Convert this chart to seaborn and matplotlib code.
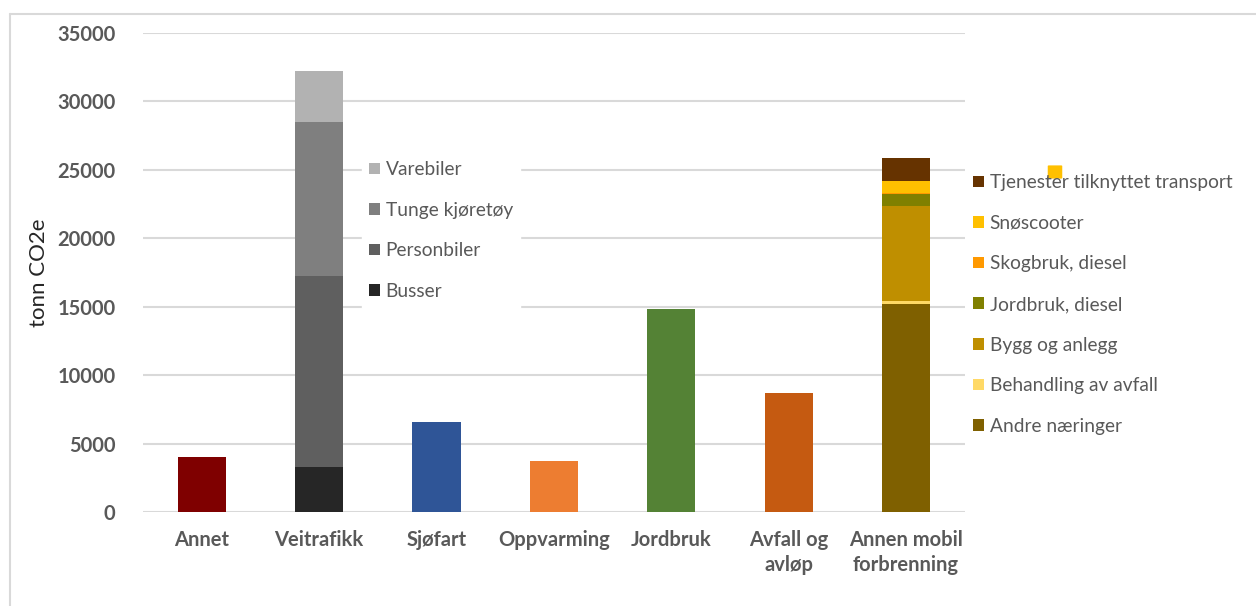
import numpy as np
import pandas as pd
import seaborn as sns
import matplotlib.pyplot as plt
from matplotlib.patches import Patch, FancyBboxPatch
from matplotlib.lines import Line2D

# ---------------- data ----------------
categories = ["Annet", "Veitrafikk", "Sjøfart", "Oppvarming", "Jordbruk",
              "Avfall og\navløp", "Annen mobil\nforbrenning"]

single_cats = ["Annet", "Sjøfart", "Oppvarming", "Jordbruk", "Avfall og\navløp"]
single_vals = [4000, 6600, 3750, 14850, 8700]
single_cols = ["#7F0000", "#2F5597", "#ED7D31", "#548235", "#C55A11"]

# Veitrafikk stack (bottom -> top)
vei_labels = ["Busser", "Personbiler", "Tunge kjøretøy", "Varebiler"]
vei_vals = [3300, 13950, 11250, 3750]
vei_cols = ["#262626", "#5F5F5F", "#7F7F7F", "#B2B2B2"]

# Annen mobil forbrenning stack (bottom -> top)
mob_labels = ["Andre næringer", "Behandling av avfall", "Bygg og anlegg",
              "Jordbruk, diesel", "Skogbruk, diesel", "Snøscooter",
              "Tjenester tilknyttet transport"]
mob_vals = [15200, 220, 6950, 840, 80, 920, 1680]
mob_cols = ["#7F6000", "#FFD966", "#BF8F00", "#808000", "#FF9900",
            "#FFC000", "#663300"]

yticks = np.arange(0, 35001, 5000)

# ---------------- style ----------------
sns.set_style("white")
plt.rcParams['font.family'] = ['Lato', 'DejaVu Sans']
grey_txt = "#595959"

fig = plt.figure(figsize=(12.56, 6.06), dpi=100)
ax = fig.add_axes([0.114, 0.155, 0.654, 0.7905])

bw = 0.41

# single-series bars
df_single = pd.DataFrame({"cat": single_cats, "val": single_vals})
sns.barplot(data=df_single, x="cat", y="val", order=categories,
            hue="cat", palette=dict(zip(single_cats, single_cols)),
            width=bw, ax=ax, legend=False, saturation=1, zorder=3,
            edgecolor="none", linewidth=0)


def stacked(cat, vals, cols):
    # draw cumulative totals top-down so each layer sits on the one below
    cum = np.cumsum(vals)
    for v, c in zip(cum[::-1], cols[::-1]):
        sns.barplot(x=[cat], y=[v], order=categories, color=c, width=bw,
                    ax=ax, saturation=1, zorder=3, edgecolor="none", linewidth=0)


stacked("Veitrafikk", vei_vals, vei_cols)
stacked("Annen mobil\nforbrenning", mob_vals, mob_cols)

ax.set_ylim(0, 35000)
ax.set_xlim(-0.5, len(categories) - 0.5)
ax.set_yticks(yticks)
ax.set_yticklabels([str(t) for t in yticks])
ax.yaxis.grid(True, color="#D9D9D9", linewidth=1.5, zorder=0)
ax.set_axisbelow(True)
for s in ax.spines.values():
    s.set_visible(False)
ax.tick_params(axis="both", length=0, labelsize=14.5, labelcolor=grey_txt)
ax.tick_params(axis="y", pad=20)
ax.tick_params(axis="x", pad=13)
for lab in ax.get_xticklabels() + ax.get_yticklabels():
    lab.set_fontweight("bold")
for lab in ax.get_xticklabels():
    lab.set_linespacing(1.3)
ax.set_xlabel("")
ax.set_ylabel("tonn CO2e", fontsize=16, color="#262626", labelpad=6)

leg_kw = dict(fontsize=13.8, labelcolor=grey_txt, handlelength=0.55,
              handleheight=0.55, handletextpad=0.3, labelspacing=1.23)

# legend for Veitrafikk (inside plot)
vei_handles = [Patch(facecolor=c, edgecolor="none") for c in vei_cols[::-1]]
fig.legend(vei_handles, vei_labels[::-1], loc="upper left",
           bbox_to_anchor=(352 / 1256, 1 - 144 / 606), frameon=True,
           facecolor="white", edgecolor="white", framealpha=1,
           borderpad=0.4, fancybox=False, **leg_kw)

# legend for Annen mobil forbrenning (right side)
mob_handles = [Patch(facecolor=c, edgecolor="none") for c in mob_cols[::-1]]
fig.legend(mob_handles, mob_labels[::-1], loc="upper left",
           bbox_to_anchor=(956 / 1256, 1 - 157 / 606), frameon=False, **leg_kw)

# stray marker over the legend
fig.patches.append(FancyBboxPatch((1049 / 1256, 1 - 178 / 606), 12 / 1256, 12 / 606,
                                  boxstyle="round,pad=0.001",
                                  transform=fig.transFigure,
                                  facecolor="#FFC000", edgecolor="none"))

# outer frame
fig.add_artist(Line2D([9.5 / 1256, 9.5 / 1256], [0, 1 - 13.5 / 606],
                      transform=fig.transFigure, color="#D9D9D9", lw=1.5))
fig.add_artist(Line2D([9.5 / 1256, 1], [1 - 13.5 / 606, 1 - 13.5 / 606],
                      transform=fig.transFigure, color="#D9D9D9", lw=1.5))

fig.savefig("out.png", dpi=100)
